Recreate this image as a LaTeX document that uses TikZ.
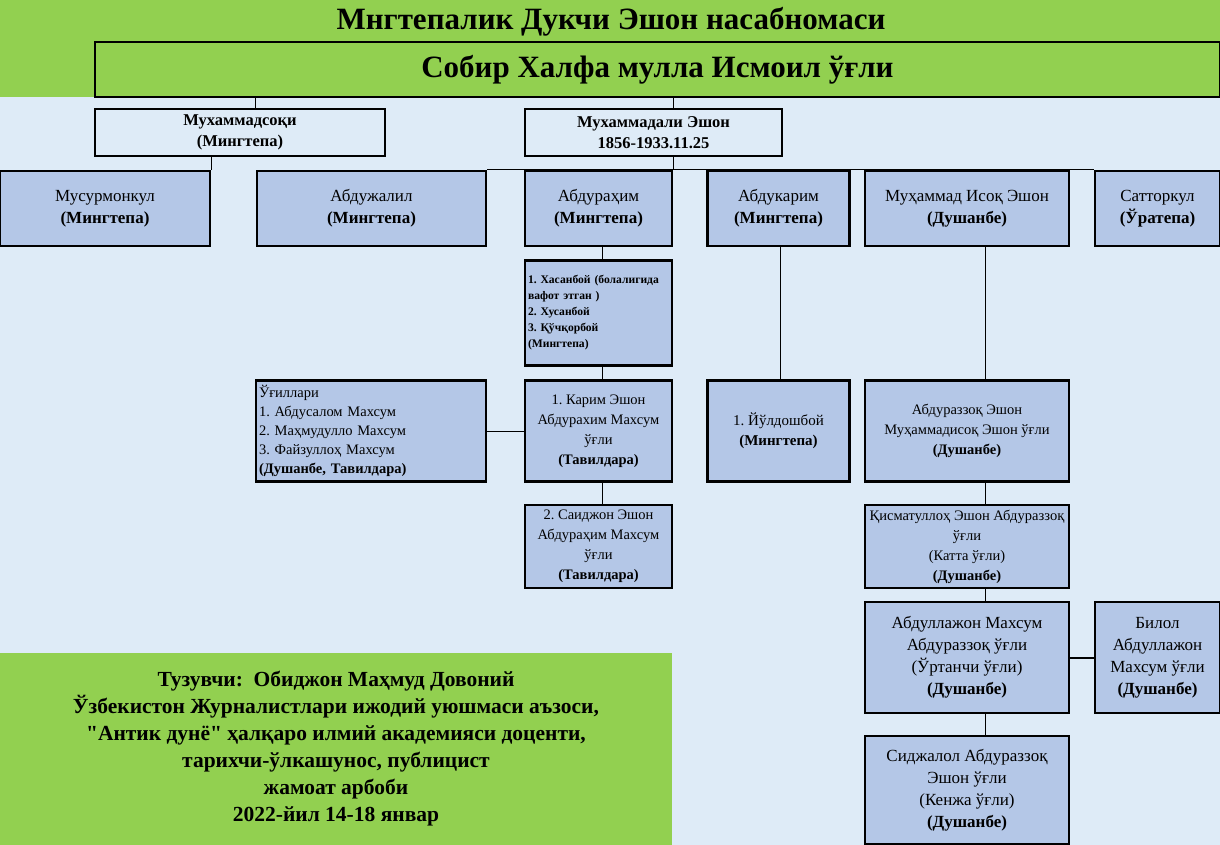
\documentclass[tikz,border=0pt]{standalone}
\usepackage{fontspec}
\setmainfont{Liberation Serif}
\newfontfamily\notefont{Liberation Serif}
\usepackage{tikz}
\usetikzlibrary{positioning}

\definecolor{titlegreen}{RGB}{146,208,80}
\definecolor{bgblue}{RGB}{222,235,247}
\definecolor{boxblue}{RGB}{180,199,231}

\begin{document}
\frenchspacing
\begin{tikzpicture}[x=1pt,y=-1pt,
    every node/.style={font=\fontsize{17}{22}\selectfont},
    pbox/.style={draw,line width=2.5pt,fill=boxblue,align=center,inner sep=2pt},
    sonbox/.style={pbox,minimum height=75pt},
    smalltext/.style={font=\fontsize{14.5}{20}\selectfont},
    headbox/.style={draw,line width=2.5pt,fill=bgblue,align=center,minimum height=47pt,
        font=\bfseries\fontsize{16.5}{21}\selectfont},
    link/.style={line width=1pt}
]
% background
\fill[bgblue] (0,0) rectangle (1220,845);
\fill[titlegreen] (0,0) rectangle (1220,97);
\useasboundingbox (0,0) rectangle (1220,845);

\node[font=\bfseries\fontsize{31}{34}\selectfont] (title) at (611,22) {Мнгтепалик Дукчи Эшон насабномаси};
\node[draw,line width=2.5pt,fill=titlegreen,minimum width=1125pt,minimum height=55pt,
    font=\bfseries\fontsize{31}{34}\selectfont] (sobir) at (657.5,69.5) {Собир Халфа мулла Исмоил ўғли};

% first generation
\node[headbox,minimum width=290pt] (muhsoqi) at (240,132.5) {Мухаммадсоқи\\(Мингтепа)};
\node[headbox,minimum width=257pt] (muhali) at (653.5,132.5) {Мухаммадали Эшон\\1856-1933.11.25};

% second generation
\node[sonbox,minimum width=210pt] (musurmon) at (105,208.5) {Мусурмонкул\\\textbf{(Мингтепа)}};
\node[sonbox,minimum width=229pt] (abdujalil) at (371.5,208.5) {Абдужалил\\\textbf{(Мингтепа)}};
\node[sonbox,minimum width=147pt] (abdurahim) at (598.5,208.5) {Абдураҳим\\\textbf{(Мингтепа)}};
\node[sonbox,minimum width=142pt] (abdukarim) at (778.5,208.5) {Абдукарим\\\textbf{(Мингтепа)}};
\node[sonbox,minimum width=204pt] (muhisoq) at (967,208.5) {Муҳаммад Исоқ Эшон\\\textbf{(Душанбе)}};
\node[sonbox,minimum width=125pt] (sattor) at (1157.5,208.5) {Сатторкул\\\textbf{(Ўратепа)}};

% Abdurahim branch
\node[pbox,minimum width=147pt,minimum height=105pt,text width=141pt,align=left,
    font=\bfseries\fontsize{11.6}{16}\selectfont] (hasanboy) at (598.5,313)
    {1. Хасанбой (болалигида\\вафот этган )\\2. Хусанбой\\3. Қўчқорбой\\(Мингтепа)};
\node[pbox,smalltext,minimum width=147pt,minimum height=101pt] (karim) at (598.5,431)
    {1. Карим Эшон\\Абдурахим Махсум\\ўғли\\\textbf{(Тавилдара)}};
\node[pbox,minimum width=230pt,minimum height=101pt,text width=224pt,align=left,
    font=\fontsize{14.5}{19}\selectfont] (ugillari) at (371,431)
    {Ўғиллари\\1. Абдусалом Махсум\\2. Маҳмудулло Махсум\\3. Файзуллоҳ Махсум\\\textbf{(Душанбе, Тавилдара)}};
\node[pbox,smalltext,minimum width=147pt,minimum height=83pt] (saidjon) at (598.5,546.5)
    {2. Саиджон Эшон\\Абдураҳим Махсум\\ўғли\\\textbf{(Тавилдара)}};

% Abdukarim branch
\node[pbox,minimum width=142pt,minimum height=101pt,font=\fontsize{15}{20}\selectfont] (yuldosh) at (778.5,431)
    {1. Йўлдошбой\\\textbf{(Мингтепа)}};

% Muhammad Isoq branch
\node[pbox,smalltext,minimum width=204pt,minimum height=101pt] (abdurazzoq) at (967,431)
    {Абдураззоқ Эшон\\Муҳаммадисоқ Эшон ўғли\\\textbf{(Душанбе)}};
\node[pbox,smalltext,minimum width=204pt,minimum height=83pt] (qismat) at (967,546.5)
    {Қисматуллоҳ Эшон Абдураззоқ\\ўғли\\(Катта ўғли)\\\textbf{(Душанбе)}};
\node[pbox,minimum width=204pt,minimum height=111pt] (abdullajon) at (967,657.5)
    {Абдуллажон Махсум\\Абдураззоқ ўғли\\(Ўртанчи ўғли)\\\textbf{(Душанбе)}};
\node[pbox,minimum width=125pt,minimum height=111pt] (bilol) at (1157.5,657.5)
    {Билол\\Абдуллажон\\Махсум ўғли\\\textbf{(Душанбе)}};
\node[pbox,minimum width=204pt,minimum height=108pt] (sidjalol) at (967,790)
    {Сиджалол Абдураззоқ\\Эшон ўғли\\(Кенжа ўғли)\\\textbf{(Душанбе)}};

% author note
\node[fill=titlegreen,minimum width=672pt,minimum height=192pt,align=center,
    font=\notefont\bfseries\fontsize{21.5}{27}\selectfont] (author) at (336,749)
    {Тузувчи:~~Обиджон Маҳмуд Довоний\\Ўзбекистон Журналистлари ижодий уюшмаси аъзоси,\\
     "Антик дунё" ҳалқаро илмий академияси доценти,\\тарихчи-ўлкашунос, публицист\\
     жамоат арбоби\\2022-йил 14-18 январ};

% connectors
\draw[link] (sobir.south -| abdujalil.north west) -- (muhsoqi.north -| abdujalil.north west);
\draw[link] (sobir.south -| abdurahim.north east) -- (muhali.north -| abdurahim.north east);
\draw[link] (muhsoqi.south -| musurmon.north east) -- (musurmon.north east);
\draw[link] (muhali.south -| abdurahim.north east) -- (abdurahim.north east);
\draw[link] (abdujalil.north east) -- (sattor.north west);
\draw[link] ([xshift=3.5pt]abdurahim.south) -- ([xshift=3.5pt]hasanboy.north);
\draw[link] ([xshift=3.5pt]hasanboy.south) -- ([xshift=3.5pt]karim.north);
\draw[link] ([xshift=3.5pt]karim.south) -- ([xshift=3.5pt]saidjon.north);
\draw[link] (ugillari.east) -- (karim.west);
\draw[link] ([xshift=2pt]abdukarim.south) -- ([xshift=2pt]yuldosh.north);
\draw[link] ([xshift=18pt]muhisoq.south) -- ([xshift=18pt]abdurazzoq.north);
\draw[link] ([xshift=18pt]abdurazzoq.south) -- ([xshift=18pt]qismat.north);
\draw[link] ([xshift=18pt]qismat.south) -- ([xshift=18pt]abdullajon.north);
\draw[link] ([xshift=18pt]abdullajon.south) -- ([xshift=18pt]sidjalol.north);
\draw[line width=2pt] (abdullajon.east) -- (bilol.west);
\end{tikzpicture}
\end{document}
